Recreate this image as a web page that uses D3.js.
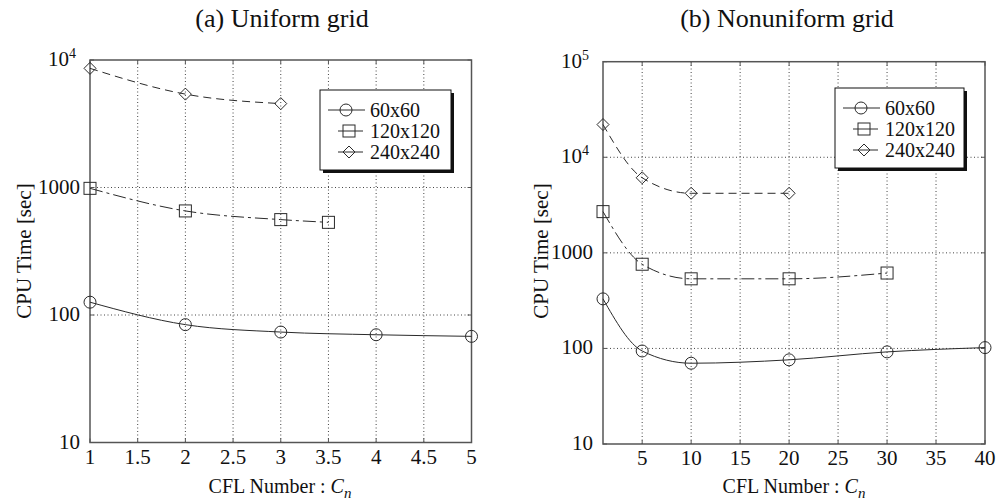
<!DOCTYPE html>
<html>
<head>
<meta charset="utf-8">
<script src="https://cdn.jsdelivr.net/npm/d3@7"></script>
<style>
  body { margin: 0; background: #fff; }
  svg { display: block; }
</style>
</head>
<body>
<svg width="999" height="502"></svg>
<script>
// (a) uniform grid
const cflA = [1, 2, 3, 4, 5];
const cflA120 = [1, 2, 3, 3.5];
const cflA240 = [1, 2, 3];
const timeA60 = [126, 84, 73.5, 70, 68];
const timeA120 = [985, 655, 560, 533];
const timeA240 = [8600, 5400, 4550];
const xTicksA = [1, 1.5, 2, 2.5, 3, 3.5, 4, 4.5, 5];

// (b) nonuniform grid
const cflB60 = [1, 5, 10, 20, 30, 40];
const cflB120 = [1, 5, 10, 20, 30];
const cflB240 = [1, 5, 10, 20];
const timeB60 = [330, 94, 70, 76, 92, 102];
const timeB120 = [2700, 760, 535, 535, 615];
const timeB240 = [22000, 6100, 4200, 4200];
const xTicksB = [5, 10, 15, 20, 25, 30, 35, 40];

const legendNames = ["60x60", "120x120", "240x240"];
const markers = ["circle", "square", "diamond"];
const dashes = [null, "13,4,3,4", "8,5"];

const svg = d3.select("svg");
const ink = "#2a2a2a";
const serif = '"Liberation Serif"';

function txt(g) {
    return g.append("text").style("font-family", serif).attr("fill", "#111");
}

function drawMarker(g, type, x, y) {
    if (type === "circle") {
        g.append("circle").attr("cx", x).attr("cy", y).attr("r", 6)
            .attr("fill", "none").attr("stroke", ink).attr("stroke-width", 1);
    } else if (type === "square") {
        g.append("rect").attr("x", x - 6).attr("y", y - 6).attr("width", 12).attr("height", 12)
            .attr("fill", "none").attr("stroke", ink).attr("stroke-width", 1);
    } else {
        g.append("path").attr("d", `M${x},${y - 6}L${x + 6},${y}L${x},${y + 6}L${x - 6},${y}Z`)
            .attr("fill", "none").attr("stroke", ink).attr("stroke-width", 1);
    }
}

function tenPow(sel, exp) {
    sel.append("tspan").text("10");
    sel.append("tspan").attr("dy", -8).attr("font-size", 14).text(exp);
}

function drawPanel(p) {
    const x = d3.scaleLinear().domain(p.xDomain).range(p.xRange);
    const y = d3.scaleLog().domain(p.yDomain).range(p.yRange);
    const g = svg.append("g");
    const [x0, x1] = p.xRange;
    const [y0, y1] = p.yRange;

    // grid
    g.selectAll(".vg").data(p.xTicks.filter(d => d !== p.xDomain[1] && d !== p.xDomain[0]))
        .enter().append("line")
        .attr("x1", d => x(d)).attr("x2", d => x(d)).attr("y1", y0).attr("y2", y1)
        .attr("stroke", "#444").attr("stroke-width", 1).attr("stroke-dasharray", "1,2.5");
    g.selectAll(".hg").data(p.yTicks.slice(1, -1))
        .enter().append("line")
        .attr("x1", x0).attr("x2", x1).attr("y1", d => y(d)).attr("y2", d => y(d))
        .attr("stroke", "#444").attr("stroke-width", 1).attr("stroke-dasharray", "1,2.5");

    // box
    g.append("rect").attr("x", x0).attr("y", y1).attr("width", x1 - x0).attr("height", y0 - y1)
        .attr("fill", "none").attr("stroke", "#555").attr("stroke-width", 1.5);

    // inner ticks
    p.xTicks.forEach(d => {
        g.append("line").attr("x1", x(d)).attr("x2", x(d)).attr("y1", y0).attr("y2", y0 - 4).attr("stroke", "#555");
        g.append("line").attr("x1", x(d)).attr("x2", x(d)).attr("y1", y1).attr("y2", y1 + 4).attr("stroke", "#555");
    });
    p.yTicks.forEach(d => {
        g.append("line").attr("x1", x0).attr("x2", x0 + 4).attr("y1", y(d)).attr("y2", y(d)).attr("stroke", "#555");
        g.append("line").attr("x1", x1).attr("x2", x1 - 4).attr("y1", y(d)).attr("y2", y(d)).attr("stroke", "#555");
    });

    // tick labels
    p.xTicks.forEach(d => {
        txt(g).attr("x", x(d)).attr("y", y0 + 21)
            .attr("text-anchor", "middle").attr("font-size", 21).text(d);
    });
    p.yTicks.forEach(d => {
        const t = txt(g).attr("x", x0 - 10).attr("y", y(d) + 6)
            .attr("text-anchor", "end").attr("font-size", 21);
        if (d >= 1e4) {
            t.attr("x", x0 - 14).attr("y", y(d) + 6);
            tenPow(t, Math.round(Math.log10(d)));
        } else {
            t.text(d);
        }
    });

    // labels
    txt(g).attr("x", p.titleX).attr("y", 27).attr("text-anchor", "middle")
        .attr("font-size", 26).text(p.title);
    const xl = txt(g).attr("x", p.xLabelX).attr("y", 493).attr("text-anchor", "middle")
        .attr("font-size", 20);
    xl.append("tspan").text("CFL Number : ");
    xl.append("tspan").attr("font-style", "italic").text("C");
    xl.append("tspan").attr("font-style", "italic").attr("font-size", 15).attr("dy", 5).text("n");
    txt(g).attr("transform", `translate(${p.yLabelX},251) rotate(-90)`)
        .attr("text-anchor", "middle").attr("font-size", 21)
        .text("CPU Time [sec]");

    // series
    const line = d3.line().x(d => x(d[0])).y(d => y(d[1])).curve(d3.curveMonotoneX);
    p.series.forEach((s, i) => {
        const pts = s.xs.map((v, j) => [v, s.ys[j]]);
        g.append("path").datum(pts).attr("d", line)
            .attr("fill", "none").attr("stroke", ink).attr("stroke-width", 1)
            .attr("stroke-dasharray", dashes[i]);
        pts.forEach(d => drawMarker(g, markers[i], x(d[0]), y(d[1])));
    });

    // legend
    const [lx, ly, lw, lh] = p.legend;
    g.append("rect").attr("x", lx + 3).attr("y", ly + 3).attr("width", lw).attr("height", lh).attr("fill", "#111");
    g.append("rect").attr("x", lx).attr("y", ly).attr("width", lw).attr("height", lh)
        .attr("fill", "#fff").attr("stroke", "#111").attr("stroke-width", 1);
    legendNames.forEach((name, i) => {
        const cy = ly + 20 + i * 21;
        if (i === 0) {
            g.append("line").attr("x1", lx + 8).attr("x2", lx + 45).attr("y1", cy).attr("y2", cy).attr("stroke", ink);
        } else {
            g.append("line").attr("x1", lx + 18).attr("x2", lx + 43).attr("y1", cy).attr("y2", cy).attr("stroke", ink);
        }
        drawMarker(g, markers[i], lx + (i === 0 ? 26 : 29), cy);
        txt(g).attr("x", lx + 50).attr("y", cy + 7).attr("font-size", 20).text(name);
    });
}

drawPanel({
    xDomain: [1, 5], xRange: [90, 471.5],
    yDomain: [10, 1e4], yRange: [442.5, 60],
    xTicks: xTicksA, yTicks: [10, 100, 1000, 1e4],
    title: "(a) Uniform grid", titleX: 282, xLabelX: 280, yLabelX: 31,
    legend: [320, 90, 131, 80],
    series: [
        { xs: cflA, ys: timeA60 },
        { xs: cflA120, ys: timeA120 },
        { xs: cflA240, ys: timeA240 }
    ]
});

drawPanel({
    xDomain: [1, 40], xRange: [603, 985],
    yDomain: [10, 1e5], yRange: [444, 61.7],
    xTicks: xTicksB, yTicks: [10, 100, 1000, 1e4, 1e5],
    title: "(b) Nonuniform grid", titleX: 787, xLabelX: 794, yLabelX: 548,
    legend: [835, 88, 129, 80],
    series: [
        { xs: cflB60, ys: timeB60 },
        { xs: cflB120, ys: timeB120 },
        { xs: cflB240, ys: timeB240 }
    ]
});
</script>
</body>
</html>
